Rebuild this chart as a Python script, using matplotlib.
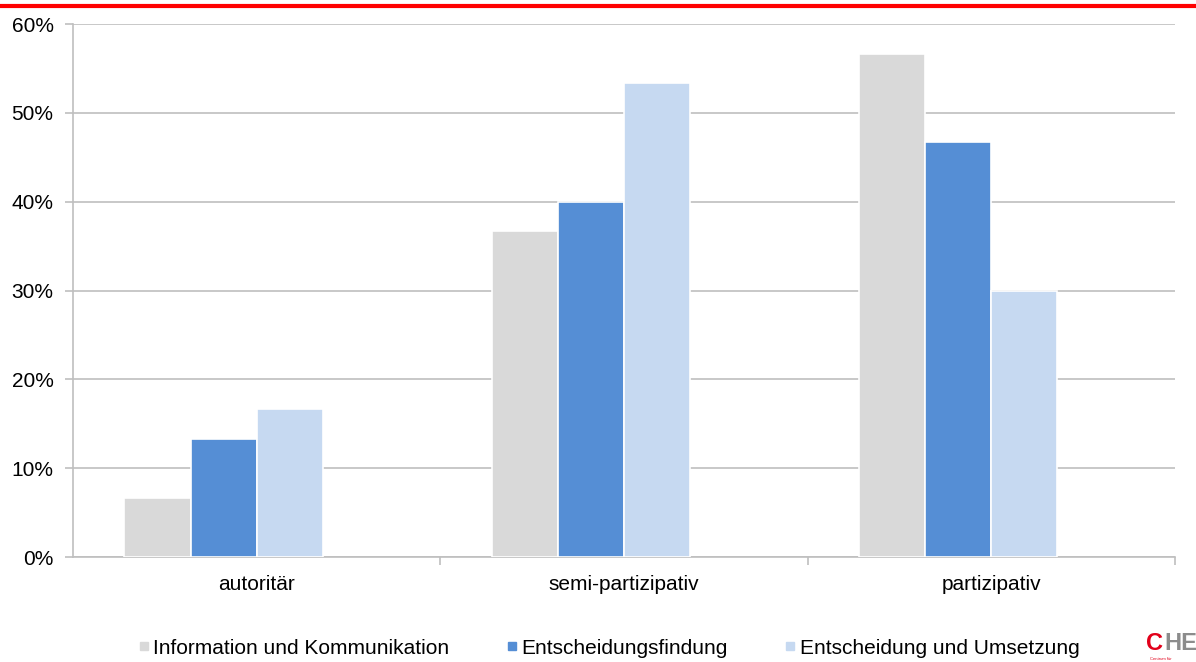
import numpy as np
import matplotlib.pyplot as plt
from matplotlib.lines import Line2D
from matplotlib.ticker import FuncFormatter

categories = ['autoritär', 'semi-partizipativ', 'partizipativ']
series_names = ['Information und Kommunikation', 'Entscheidungsfindung', 'Entscheidung und Umsetzung']
info_komm = [6.67, 36.67, 56.67]
entsch_findung = [13.33, 40.0, 46.67]
entsch_umsetzung = [16.67, 53.33, 30.0]
colors = ['#D9D9D9', '#558ED5', '#C6D9F1']

plt.rcParams['font.family'] = ['Liberation Sans', 'DejaVu Sans']

fig = plt.figure(figsize=(11.96, 6.62), dpi=100)
ax = fig.add_axes([0.061, 0.1586, 0.9214, 0.8051])

x = np.arange(len(categories))
w = 0.18
# Excel layout with a fourth (empty) slot, so bars sit left of centre
offsets = [-1.5 * w, -0.5 * w, 0.5 * w]
for vals, off, c, name in zip([info_komm, entsch_findung, entsch_umsetzung], offsets, colors, series_names):
    ax.bar(x + off, vals, w, color=c, edgecolor='white', linewidth=1.2, label=name, zorder=3)

ax.set_xlim(-0.5, 2.5)
ax.set_ylim(0, 60)
ax.set_yticks(np.arange(0, 61, 10))
ax.yaxis.set_major_formatter(FuncFormatter(lambda v, p: f'{v:.0f}%'))
ax.grid(axis='y', color='#BFBFBF', linewidth=1.2, zorder=0)

ax.set_xticks(x)
ax.set_xticklabels(categories)
ax.set_xticks([0.5, 1.5, 2.5], minor=True)
ax.tick_params(axis='x', which='major', length=0, pad=13, labelsize=15)
ax.tick_params(axis='x', which='minor', length=6, color='#BFBFBF', width=1.2)
ax.tick_params(axis='y', length=6, color='#BFBFBF', width=1.2, labelsize=15, pad=8)

for s in ['top', 'right']:
    ax.spines[s].set_visible(False)
for s in ['left', 'bottom']:
    ax.spines[s].set_color('#BFBFBF')
    ax.spines[s].set_linewidth(1.2)

handles = [Line2D([], [], marker='s', linestyle='none', markersize=6,
                  markerfacecolor=c, markeredgecolor=c) for c in colors]
fig.legend(handles, series_names, loc='center', bbox_to_anchor=(0.508, 0.021),
           ncol=3, frameon=False, fontsize=15, handletextpad=0.05, columnspacing=2.6,
           handlelength=0.8)

# red rule at the top
fig.add_artist(Line2D([0, 1], [0.9915, 0.9915], color='red', linewidth=3, transform=fig.transFigure))

# CHE logo text, cut at the right edge as in the original
fig.text(0.9582, 0.018, 'C', color='#E2001A', fontsize=17, fontweight='bold', va='baseline')
fig.text(0.9735, 0.018, 'HE', color='#8C8C8C', fontsize=17, fontweight='bold', va='baseline')
fig.text(0.9615, 0.003, 'Centrum für', color='#E2001A', fontsize=3)

fig.savefig('out.png', dpi=100)
